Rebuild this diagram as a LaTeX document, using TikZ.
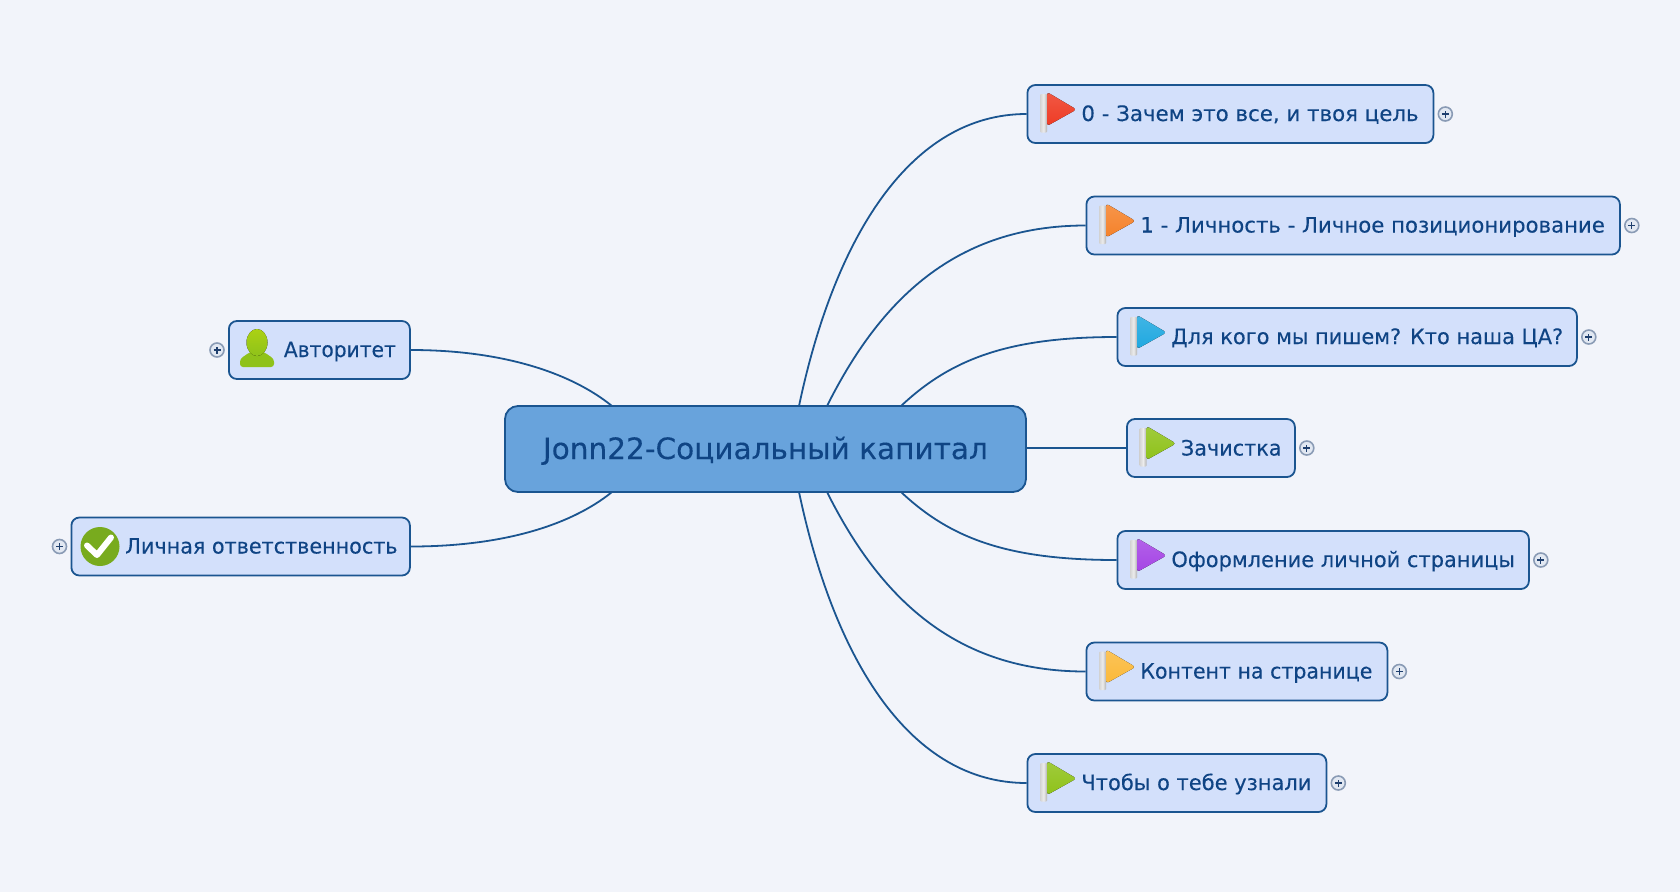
\documentclass[tikz,border=0pt]{standalone}
\usepackage{graphicx}
\usepackage{fontspec}
\setmainfont{DejaVu Sans}
\newfontfamily\lblfont[FakeBold=0.2]{DejaVu Sans}
\definecolor{bgc}{HTML}{F2F4FA}
\definecolor{boxc}{HTML}{D3E0FB}
\definecolor{linec}{HTML}{1B5590}
\definecolor{rootc}{HTML}{68A3DC}
\definecolor{textc}{HTML}{0F4484}
\definecolor{expb}{HTML}{8A9BB5}
\definecolor{expf}{HTML}{E2E8F2}
\definecolor{expp}{HTML}{1F3F6E}
\tikzset{
  x=1pt,y=-1pt,
  topic/.style={draw=linec,fill=boxc,line width=1.8pt,rounded corners=8pt,minimum height=58pt,inner sep=0pt,text=textc,font=\lblfont\fontsize{21.2}{26}\selectfont,anchor=west},
  roottopic/.style={draw=linec,fill=rootc,line width=1.8pt,rounded corners=13pt,minimum height=86pt,inner sep=0pt,text=textc,font=\lblfont\fontsize{29.4}{36}\selectfont},
  link/.style={draw=linec,line width=1.8pt},
  expander/.style={circle,draw=expb,fill=expf,line width=1.6pt,minimum size=14pt,inner sep=0pt,
    path picture={\draw[expp,line width=1.2pt] ([xshift=-3.5pt]path picture bounding box.center)--([xshift=3.5pt]path picture bounding box.center) ([yshift=-3.5pt]path picture bounding box.center)--([yshift=3.5pt]path picture bounding box.center);}},
  pics/flag/.style={code={
    \shade[left color=gray!35,right color=gray!60,middle color=gray!15,rounded corners=1pt] (13.5,-20) rectangle (20.5,18.5);
    \fill[top color=#1!85!white,bottom color=#1,rounded corners=3pt] (20.5,-22) -- (50,-4.5) -- (20.5,12) -- cycle;
  }},
}
% #1 box width, #2 indent, #3 baseline drop, #4 horizontal fit, #5 text
\newcommand{\tl}[5]{\makebox[#1pt][l]{\hspace{#2pt}\raisebox{-#3pt}[0pt][0pt]{\scalebox{#4}[1]{#5}}}}
\begin{document}
\begin{tikzpicture}
\useasboundingbox (0,0) rectangle (1680,892);
\fill[bgc] (0,0) rectangle (1680,892);
% root
\node[roottopic,minimum width=521pt] (root) at (765.5,449) {\tl{521}{38}{10}{1.005}{Jonn22-Социальный капитал}};
% topics
\node[topic,minimum width=406pt] (t0) at (1026.5,114) {\tl{406}{54}{7}{1.006}{0 - Зачем это все, и твоя цель}};
\node[topic,minimum width=533.5pt] (t1) at (1085.5,225.5) {\tl{533.5}{54}{7}{1.002}{1 - Личность - Личное позиционирование}};
\node[topic,minimum width=459.5pt] (t2) at (1116.5,337) {\tl{459.5}{54}{7}{0.986}{Для кого мы пишем? Кто наша ЦА?}};
\node[topic,minimum width=168pt] (t3) at (1126,448) {\tl{168}{54}{7.5}{0.98}{Зачистка}};
\node[topic,minimum width=411.5pt] (t4) at (1116.5,560) {\tl{411.5}{54}{7}{0.988}{Оформление личной страницы}};
\node[topic,minimum width=301pt] (t5) at (1085.5,671.5) {\tl{301}{54}{7}{0.969}{Контент на странице}};
\node[topic,minimum width=299pt] (t6) at (1026.5,783) {\tl{299}{54}{7}{0.99}{Чтобы о тебе узнали}};
\node[topic,minimum width=181pt] (a0) at (228,350) {\tl{181}{55}{7}{0.954}{Авторитет}};
\node[topic,minimum width=338.5pt] (a1) at (70.5,546.5) {\tl{338.5}{54}{7}{0.977}{Личная ответственность}};
% connector ends on the root
\coordinate (r0) at (799,406); \coordinate (r1) at (827,406); \coordinate (r2) at (901,406);
\coordinate (r4) at (901,492); \coordinate (r5) at (827,492); \coordinate (r6) at (799,492);
\coordinate (l0) at (612,406); \coordinate (l1) at (612,492);
% connectors
\draw[link] (t0.west) .. controls +(-115,0) and (835,235) .. (r0);
\draw[link] (t1.west) .. controls +(-130,0) and (880,300) .. (r1);
\draw[link] (t2.west) .. controls +(-110,0) and (950,360) .. (r2);
\draw[link] (root.east |- t3.west) -- (t3.west);
\draw[link] (t4.west) .. controls +(-110,0) and (950,538) .. (r4);
\draw[link] (t5.west) .. controls +(-130,0) and (880,598) .. (r5);
\draw[link] (t6.west) .. controls +(-115,0) and (835,663) .. (r6);
\draw[link] (a0.east) .. controls +(90,0) and (570,372) .. (l0);
\draw[link] (a1.east) .. controls +(90,0) and (570,526) .. (l1);
% expanders
\foreach \n in {t0,t1,t2,t3,t4,t5,t6}{\node[expander] (x\n) at ([xshift=11pt]\n.east) {};}
\foreach \n in {a0,a1}{\node[expander] (x\n) at ([xshift=-11pt]\n.west) {};}
% flags
\definecolor{f0}{HTML}{EE3B24}\definecolor{f1}{HTML}{F5822A}\definecolor{f2}{HTML}{1FA8E0}
\definecolor{f3}{HTML}{8FC21A}\definecolor{f4}{HTML}{A545E5}\definecolor{f5}{HTML}{FBB93A}
\definecolor{chk}{HTML}{78AB1E}
\pic at (t0.west) {flag=f0};
\pic at (t1.west) {flag=f1};
\pic at (t2.west) {flag=f2};
\pic at (t3.west) {flag=f3};
\pic at (t4.west) {flag=f4};
\pic at (t5.west) {flag=f5};
\pic at (t6.west) {flag=f3};
% person icon
\fill[f3,rounded corners=3pt] (240,367) -- (240,359) -- (250,352) -- (264,352) -- (274,359) -- (274,367) -- cycle;
\fill[top color=f3!75!yellow,bottom color=f3] (257,342.5) ellipse (10.5pt and 13.5pt);
% check icon
\fill[chk] (100,546.5) circle (19.5pt);
\draw[white,line width=6pt,line cap=round,line join=round] (87,545.5) -- (97,555) -- (111,537.5);
\end{tikzpicture}
\end{document}
